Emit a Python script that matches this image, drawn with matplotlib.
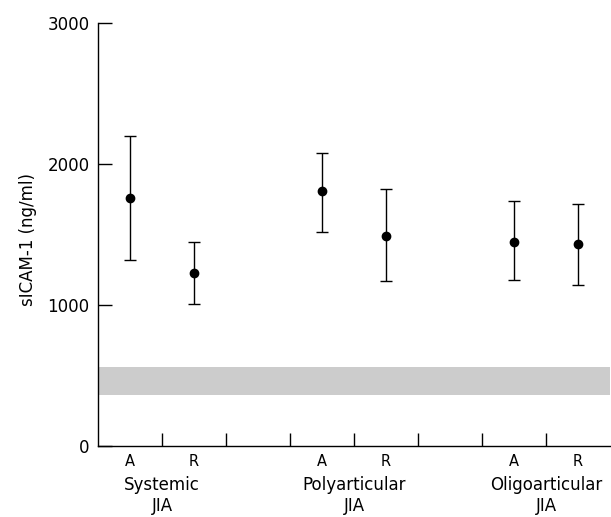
import matplotlib
matplotlib.use("Agg")
import matplotlib.pyplot as plt
import matplotlib.transforms as mtransforms

# Data
groups = ["Systemic\nJIA", "Polyarticular\nJIA", "Oligoarticular\nJIA"]
subgroups = ["A", "R", "A", "R", "A", "R"]
positions = [0.5, 1.5, 3.5, 4.5, 6.5, 7.5]
group_centers = [1, 4, 7]
means = [1760, 1230, 1810, 1490, 1450, 1430]
upper = [2200, 1450, 2080, 1820, 1740, 1715]
lower = [1320, 1005, 1520, 1170, 1175, 1145]
normal_low, normal_high = 360, 560
yticks = [0, 1000, 2000, 3000]
xticks_sep = [1, 2, 3, 4, 5, 6, 7]

font = "DejaVu Sans"
plt.rcParams["font.family"] = font

fig = plt.figure(figsize=(6.11, 5.17), dpi=100)
ax = fig.add_axes([98/611, 71/517, 512/611, 423/517])

ax.axhspan(normal_low, normal_high, color="#cccccc", lw=0, zorder=0)

yerr = [[m - l for m, l in zip(means, lower)], [u - m for m, u in zip(means, upper)]]
ax.errorbar(positions, means, yerr=yerr, fmt="o", color="black", ms=6,
            elinewidth=1.0, capsize=4.5, capthick=1.0, zorder=3, clip_on=False)

ax.set_xlim(0, 8)
ax.set_ylim(0, 3000)
ax.spines["top"].set_visible(False)
ax.spines["right"].set_visible(False)
ax.spines["left"].set_linewidth(1.0)
ax.spines["bottom"].set_linewidth(1.0)

ax.set_yticks(yticks)
ax.set_yticklabels([str(v) for v in yticks], fontsize=12)
ax.tick_params(axis="y", direction="in", length=10, width=1.0, pad=6)

ax.set_xticks(xticks_sep)
ax.set_xticklabels([])
ax.tick_params(axis="x", direction="in", length=9.5, width=1.0)

trans = mtransforms.blended_transform_factory(ax.transData, ax.transAxes)
for x, s in zip(positions, subgroups):
    ax.text(x, -0.0355, s, transform=trans, ha="center", va="center", fontsize=10.5)
for x, g in zip(group_centers, groups):
    ax.text(x, -0.117, g, transform=trans, ha="center", va="center",
            fontsize=12, linespacing=1.2)

fig.text(28/611, 1 - 240/517, "sICAM-1 (ng/ml)", rotation=90, ha="center",
         va="center", fontsize=12)

fig.savefig("out.png", dpi=100)
